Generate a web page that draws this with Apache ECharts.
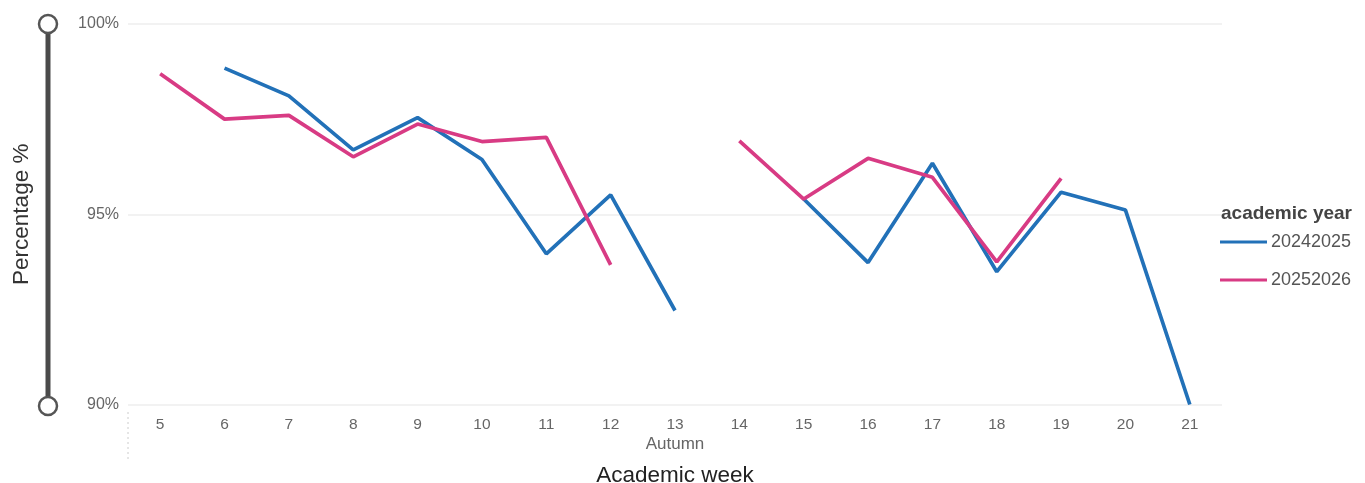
<!DOCTYPE html>
<html lang="en">
<head>
    <meta charset="UTF-8">
    <title>Percentage by academic week</title>
    <script src="https://cdn.jsdelivr.net/npm/echarts@6/dist/echarts.min.js"></script>
    <style>
        body { margin: 0; padding: 0; background: #fff; font-family: 'Liberation Sans', Arial, sans-serif; }
        #main { width: 1365px; height: 483px; }
    </style>
</head>
<body>
    <div id="main"></div>
    <script>
        // weeks on the x axis
        const weeks = ['5','6','7','8','9','10','11','12','13','14','15','16','17','18','19','20','21'];
        const yearNames = ['20242025', '20252026'];
        // values, null = no data that week
        const year2425 = [null, 98.84, 98.11, 96.69, 97.54, 96.44, 93.96, 95.51, 92.47, null, 95.40, 93.73, 96.34, 93.49, 95.58, 95.11, 90.0];
        const year2526 = [98.69, 97.50, 97.60, 96.51, 97.37, 96.91, 97.02, 93.67, null, 96.93, 95.40, 96.47, 95.97, 93.75, 95.94, null, null];
        const termLabels = ['Autumn'];
        const colors = ['#2271b8', '#d83b84'];

        const font = "'Liberation Sans', Arial, sans-serif";
        const myChart = echarts.init(document.getElementById('main'));

        const option = {
            animation: false,
            textStyle: { fontFamily: font },
            color: colors,
            title: {
                text: 'academic year',
                left: 1216, top: 199,
                textStyle: { fontSize: 19, fontWeight: 'bold', color: '#444', fontFamily: font }
            },
            legend: {
                orient: 'vertical',
                left: 1215, top: 228,
                icon: 'rect',
                itemWidth: 47, itemHeight: 3, itemGap: 20,
                data: yearNames,
                textStyle: { fontSize: 18, lineHeight: 18, color: '#555', fontFamily: font, padding: [0, 0, 0, -1] }
            },
            grid: { left: 128, right: 143, top: 24, bottom: 78.5, outerBoundsMode: 'none', containLabel: false },
            xAxis: [{
                type: 'category',
                data: weeks,
                boundaryGap: true,
                axisLine: { show: false },
                axisTick: { show: false },
                axisLabel: { fontSize: 15.5, color: '#666', margin: 12 },
                name: 'Academic week',
                nameLocation: 'middle',
                nameGap: 60,
                nameTextStyle: { fontSize: 22.5, color: '#222' }
            }, {
                type: 'category',
                data: termLabels,
                position: 'bottom',
                offset: 19,
                axisLine: { show: false },
                axisTick: { show: false },
                axisLabel: { fontSize: 17, color: '#666', margin: 12 }
            }],
            yAxis: {
                type: 'value',
                min: 90, max: 100, interval: 5,
                axisLabel: { formatter: '{value}%', fontSize: 16, color: '#666', margin: 9 },
                splitLine: { lineStyle: { color: '#eeeeee', width: 1.5 } },
                name: 'Percentage %',
                nameLocation: 'middle',
                nameGap: 95,
                nameTextStyle: { fontSize: 22.5, color: '#333' }
            },
            series: [{
                name: yearNames[0],
                type: 'line',
                data: year2425,
                symbol: 'none',
                connectNulls: false,
                lineStyle: { width: 3.7, color: colors[0] }
            }, {
                name: yearNames[1],
                type: 'line',
                data: year2526,
                symbol: 'none',
                connectNulls: false,
                lineStyle: { width: 3.7, color: colors[1] }
            }],
            graphic: { elements: [
                // decorative range slider on the left
                { type: 'line', shape: { x1: 48, y1: 24, x2: 48, y2: 405 }, style: { stroke: '#4a4a4a', lineWidth: 5 } },
                { type: 'circle', shape: { cx: 48, cy: 24, r: 9 }, style: { fill: '#fff', stroke: '#555', lineWidth: 2.5 } },
                { type: 'circle', shape: { cx: 48, cy: 406, r: 9 }, style: { fill: '#fff', stroke: '#555', lineWidth: 2.5 } },
                // dotted separator under the axis start
                { type: 'line', shape: { x1: 128, y1: 412, x2: 128, y2: 460 }, style: { stroke: '#ccc', lineWidth: 1, lineDash: [2, 3] } }
            ] }
        };
        myChart.setOption(option);
    </script>
</body>
</html>
